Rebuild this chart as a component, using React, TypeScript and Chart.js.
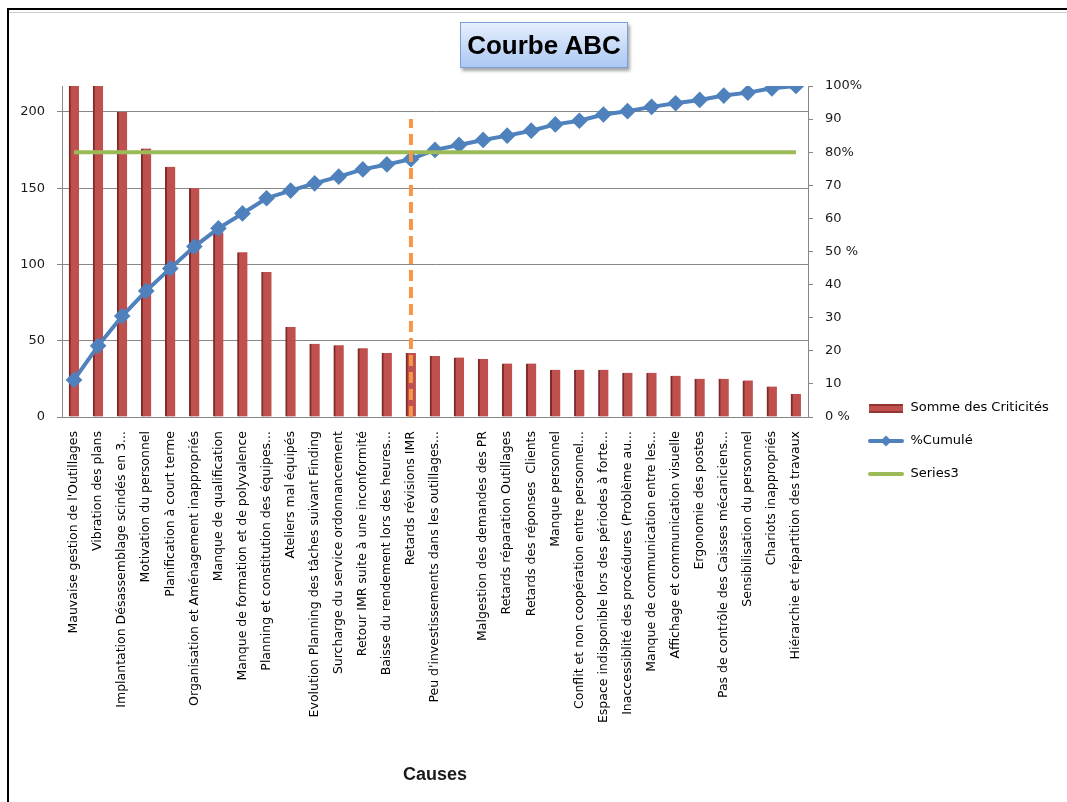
import React, { useEffect, useRef } from 'react';
import { Chart, registerables } from 'chart.js';

Chart.register(...registerables);

// ---------- data ----------
const categories: string[] = [
  "Mauvaise gestion de l'Outillages",
  'Vibration des plans',
  'Implantation Désassemblage scindés en 3...',
  'Motivation du personnel',
  'Planification à court terme',
  'Organisation et Aménagement inappropriés',
  'Manque de qualification',
  'Manque de formation et de polyvalence',
  'Planning et constitution des équipes...',
  'Ateliers mal équipés',
  'Evolution Planning des tâches suivant Finding',
  'Surcharge du service ordonnancement',
  'Retour IMR suite à une inconformité',
  'Baisse du rendement lors des heures...',
  'Retards révisions IMR',
  "Peu d'investissements dans les outillages...",
  '',
  'Malgestion des demandes des PR',
  'Retards réparation Outillages',
  'Retards des réponses  Clients',
  'Manque personnel',
  'Conflit et non coopération entre personnel...',
  'Espace indisponible lors des périodes à forte...',
  'Inaccessiblité des procédures (Problème au...',
  'Manque de communication entre les...',
  'Affichage et communication visuelle',
  'Ergonomie des postes',
  'Pas de contrôle des Caisses mécaniciens...',
  'Sensibilisation du personnel',
  'Chariots inappropriés',
  'Hiérarchie et répartition des travaux',
];

const criticites: number[] = [
  253, 230, 200, 176, 164, 150, 121, 108, 95, 59, 48, 47, 45, 42, 42, 40,
  39, 38, 35, 35, 31, 31, 31, 29, 29, 27, 25, 25, 24, 20, 15,
];

const cumule: number[] = [
  11.2, 21.5, 30.5, 38.1, 44.9, 51.5, 57.0, 61.5, 66.1, 68.4, 70.6, 72.6,
  74.8, 76.3, 77.9, 80.7, 82.2, 83.7, 85.0, 86.5, 88.4, 89.5, 91.4, 92.4,
  93.7, 94.8, 95.8, 97.1, 98.0, 99.3, 100,
];

const series3: number[] = [
  80, 80, 80, 80, 80, 80, 80, 80, 80, 80, 80, 80, 80, 80, 80, 80,
  80, 80, 80, 80, 80, 80, 80, 80, 80, 80, 80, 80, 80, 80, 80,
];

const abcCategory = 'Retards révisions IMR';
const abcLine: number[] = [0, 90];

const leftTicks: number[] = [0, 50, 100, 150, 200];
const leftMax = 217;
const rightTicks: number[] = [0, 10, 20, 30, 40, 50, 60, 70, 80, 90, 100];
const rightTickLabels: string[] = ['0 %', '10', '20', '30', '40', '50 %', '60', '70', '80%', '90', '100%'];

const legendNames: string[] = ['Somme des Criticités', '%Cumulé', 'Series3'];

// ---------- styles ----------
const W = 1067;
const H = 802;
const FONT = '"DejaVu Sans", sans-serif';
const RED = '#C0504D';
const BLUE = '#4F81BD';
const GREEN = '#9BBB59';
const ORANGE = '#F79646';
const GRID = '#878787';

function swatch(draw: (ctx: CanvasRenderingContext2D) => void): HTMLCanvasElement {
  const c = document.createElement('canvas');
  c.width = 36;
  c.height = 14;
  const ctx = c.getContext('2d')!;
  draw(ctx);
  return c;
}

export default function App() {
  const ref = useRef<HTMLCanvasElement | null>(null);

  useEffect(() => {
    if (!ref.current) return;
    const ctx = ref.current.getContext('2d')!;

    const legendFontSize = 13;
    const legendPad = 20;
    const boxW = 36;
    ctx.font = `${legendFontSize}px ${FONT}`;
    const textW = Math.max(...legendNames.map((t) => ctx.measureText(t).width));
    const legendNeed = legendPad + boxW + legendFontSize / 2 + textW + 10;
    const plotRight = 808;
    const y1Width = 57;
    const legendMax = W - plotRight - y1Width;
    const padRight = Math.max(0, legendMax - legendNeed);
    const swatchX = 868;

    const swRed = swatch((c) => {
      c.fillStyle = RED;
      c.fillRect(1, 3, 34, 9);
      c.fillStyle = 'rgba(90,20,20,0.45)';
      c.fillRect(1, 3, 34, 2);
      c.fillRect(1, 10, 34, 2);
    });
    const swBlue = swatch((c) => {
      c.strokeStyle = BLUE;
      c.lineWidth = 4;
      c.lineCap = 'round';
      c.beginPath();
      c.moveTo(2, 7);
      c.lineTo(34, 7);
      c.stroke();
      c.fillStyle = BLUE;
      c.beginPath();
      c.moveTo(18, 1.5);
      c.lineTo(23.5, 7);
      c.lineTo(18, 12.5);
      c.lineTo(12.5, 7);
      c.closePath();
      c.fill();
    });
    const swGreen = swatch((c) => {
      c.strokeStyle = GREEN;
      c.lineWidth = 4;
      c.lineCap = 'round';
      c.beginPath();
      c.moveTo(2, 7);
      c.lineTo(34, 7);
      c.stroke();
    });
    const swatches = [swRed, swBlue, swGreen];

    const legendShift = {
      id: 'legendShift',
      afterLayout(chart: any) {
        const lg = chart.legend;
        if (!lg) return;
        const d = lg.left + legendPad - swatchX;
        lg.left -= d;
        lg.right -= d;
        lg.top += 3;
        lg.bottom += 3;
      },
    };

    const chart = new Chart(ctx, {
      data: {
        labels: categories,
        datasets: [
          {
            type: 'line',
            label: 'ABC',
            data: [
              { x: abcCategory, y: abcLine[0] },
              { x: abcCategory, y: abcLine[1] },
            ],
            yAxisID: 'y1',
            borderColor: ORANGE,
            borderWidth: 4,
            borderDash: [11, 6],
            pointRadius: 0,
            order: 0,
          } as any,
          {
            type: 'line',
            label: legendNames[2],
            data: series3,
            yAxisID: 'y1',
            borderColor: GREEN,
            backgroundColor: GREEN,
            borderWidth: 4,
            pointRadius: 0,
            order: 1,
          },
          {
            type: 'line',
            label: legendNames[1],
            data: cumule,
            yAxisID: 'y1',
            borderColor: BLUE,
            backgroundColor: BLUE,
            borderWidth: 4,
            pointStyle: 'rectRot',
            pointRadius: 5.5,
            pointBackgroundColor: BLUE,
            pointBorderColor: BLUE,
            tension: 0,
            order: 2,
          },
          {
            type: 'bar',
            label: legendNames[0],
            data: criticites,
            yAxisID: 'y',
            backgroundColor: RED,
            borderColor: '#7E2C2A',
            borderWidth: { left: 2, right: 0, top: 0, bottom: 0 },
            borderSkipped: false,
            barThickness: 10,
            order: 10,
          },
        ],
      },
      options: {
        responsive: false,
        animation: false,
        events: [],
        layout: { padding: { left: 0, top: 86, right: padRight, bottom: 12 } },
        plugins: {
          title: { display: false },
          tooltip: { enabled: false },
          legend: {
            position: 'right',
            align: 'center',
            maxWidth: legendMax - padRight,
            labels: {
              usePointStyle: true,
              pointStyleWidth: boxW,
              padding: legendPad,
              color: '#000',
              font: { family: FONT, size: legendFontSize },
              generateLabels: () => {
                const order = [3, 2, 1];
                return order.map((di, i) => ({
                  text: legendNames[i],
                  datasetIndex: di,
                  pointStyle: swatches[i],
                  fillStyle: 'transparent',
                  strokeStyle: 'transparent',
                  lineWidth: 0,
                  hidden: false,
                  fontColor: '#000',
                }));
              },
            },
          },
        },
        scales: {
          x: {
            type: 'category',
            offset: true,
            grid: { display: false },
            border: { display: true, color: GRID, width: 1 },
            ticks: {
              autoSkip: false,
              minRotation: 90,
              maxRotation: 90,
              padding: 6,
              color: '#000',
              font: { family: FONT, size: 12.5 },
            },
            title: {
              display: true,
              text: 'Causes',
              color: '#1a1a1a',
              font: { family: '"Liberation Sans", Arial, sans-serif', size: 18, weight: 'bold' },
              padding: { top: 4, bottom: 4 },
            },
            afterFit: (scale: any) => {
              scale.height = H - 12 - 417;
            },
          },
          y: {
            type: 'linear',
            position: 'left',
            min: 0,
            max: leftMax,
            grid: { color: GRID, lineWidth: 1, drawTicks: true, tickLength: 5, tickColor: GRID },
            border: { display: true, color: GRID, width: 1 },
            ticks: { padding: 12, color: '#1a1a1a', font: { family: FONT, size: 13 } },
            afterBuildTicks: (scale: any) => {
              scale.ticks = leftTicks.map((v) => ({ value: v }));
            },
            afterFit: (scale: any) => {
              scale.width = 62;
            },
          },
          y1: {
            type: 'linear',
            position: 'right',
            min: 0,
            max: 100,
            grid: { drawOnChartArea: false, drawTicks: true, tickLength: 5, tickColor: GRID },
            border: { display: true, color: GRID, width: 1 },
            ticks: {
              padding: 12,
              color: '#1a1a1a',
              font: { family: FONT, size: 13 },
              callback: (v: any) => {
                const i = rightTicks.indexOf(Number(v));
                return i >= 0 ? rightTickLabels[i] : '';
              },
            },
            afterBuildTicks: (scale: any) => {
              scale.ticks = rightTicks.map((v) => ({ value: v }));
            },
            afterFit: (scale: any) => {
              scale.width = y1Width;
            },
          },
        },
      } as any,
      plugins: [legendShift],
    });

    return () => chart.destroy();
  }, []);

  return (
    <div
      style={{
        position: 'absolute',
        left: 0,
        top: 0,
        width: W,
        height: H,
        overflow: 'hidden',
        background: '#fff',
      }}
    >
      <canvas ref={ref} width={W} height={H} style={{ position: 'absolute', left: 0, top: 0 }} />
      <div
        style={{
          position: 'absolute',
          left: 7,
          top: 8,
          width: W,
          height: H,
          borderLeft: '2px solid #000',
          borderTop: '2px solid #000',
          pointerEvents: 'none',
        }}
      />
      <div
        style={{
          position: 'absolute',
          left: 9,
          top: 12,
          width: W,
          height: 1,
          background: '#cfcfcf',
        }}
      />
      <div
        style={{
          position: 'absolute',
          left: 460,
          top: 22,
          width: 166,
          height: 44,
          border: '1px solid #7C9FD8',
          background: 'linear-gradient(#E6EFFD, #ABC8F3)',
          boxShadow: '2px 3px 3px rgba(0,0,0,0.35)',
          fontFamily: '"Liberation Sans", Arial, sans-serif',
          fontWeight: 'bold',
          fontSize: 26,
          lineHeight: '44px',
          textAlign: 'center',
          color: '#000',
        }}
      >
        Courbe ABC
      </div>
    </div>
  );
}
